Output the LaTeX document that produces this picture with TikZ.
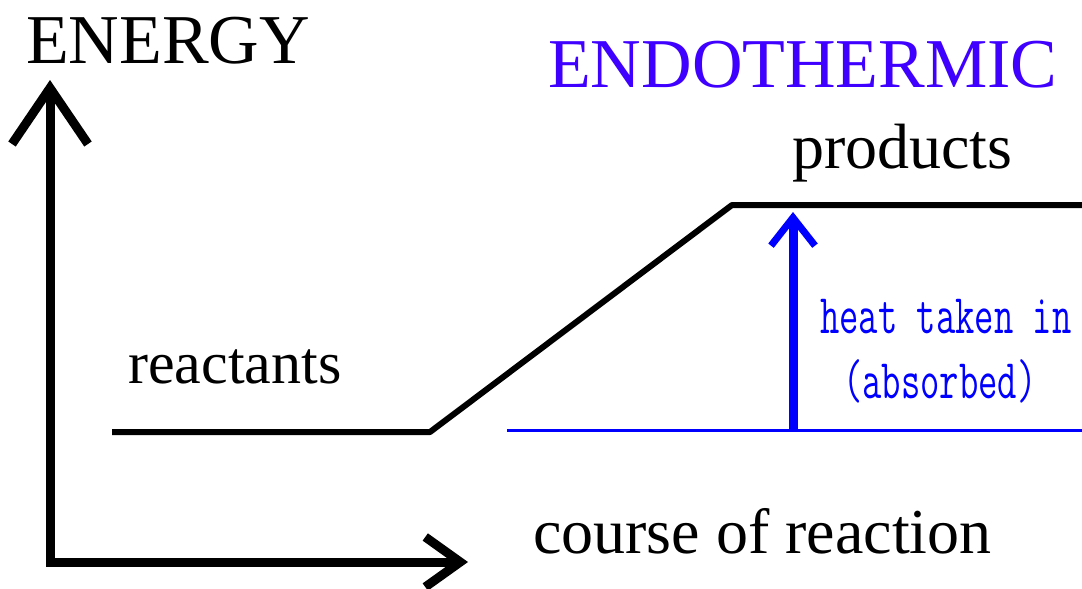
\documentclass[tikz,border=0pt]{standalone}
\usepackage{fontspec}
\setmainfont{Liberation Serif}
\usetikzlibrary{arrows.meta}
\definecolor{endoblue}{RGB}{64,0,255}
\definecolor{pureblue}{RGB}{0,0,255}
\tikzset{
  axisline/.style={line width=9pt, line cap=butt, line join=miter},
  energyline/.style={line width=6pt, line join=round},
  baseline/.style={line width=3pt, pureblue},
  heatarrow/.style={line width=9pt, pureblue, -{Straight Barb[length=28pt,width=44pt,line width=7pt]}},
  lbl/.style={inner sep=0pt, anchor=base west},
  bigtxt/.style={lbl, font=\fontsize{70}{70}\selectfont},
  midtxt/.style={lbl, font=\fontsize{62}{62}\selectfont},
  heattxt/.style={lbl, pureblue, font=\ttfamily\fontsize{56}{56}\selectfont}
}
\begin{document}
\begin{tikzpicture}[x=1pt,y=-1pt]
\useasboundingbox (0,0) rectangle (1082,589);
% axes
\coordinate (ytop) at (50,80);
\coordinate (O) at (50,562);
\coordinate (xend) at (468,562);
\draw[axisline, {Straight Barb[length=56pt,width=76pt,line width=9pt]}-{Straight Barb[length=35pt,width=50pt,line width=9pt]}] (ytop) -- (O.center) -- (xend);
% energy profile
\coordinate (r0) at (112,432);
\coordinate (r1) at (430,432);
\coordinate (p0) at (732,205);
\coordinate (p1) at (1082,205);
\draw[energyline] (r0) -- (r1) -- (p0) -- (p1);
% blue baseline and heat arrow
\coordinate (b0) at (507,430);
\coordinate (b1) at (1082,430);
\draw[baseline] (b0) -- (b1);
\coordinate (ab) at (793,431);
\coordinate (at) at (793,212);
\draw[heatarrow] (ab) -- (at);
% labels
\node[bigtxt] (energy) at (26,63) {ENERGY};
\node[bigtxt, text=endoblue] (endo) at (548,87) {ENDOTHERMIC};
\node[midtxt, font=\fontsize{64}{64}\selectfont] (prod) at (792,168) {products};
\node[midtxt, font=\fontsize{60}{60}\selectfont] (react) at (128,383) {reactants};
\node[midtxt, font=\fontsize{64}{64}\selectfont] (course) at (533,553) {course of reaction};
\node[heattxt] (heat1) at (820,333) {\scalebox{0.67}[1]{heat taken in}};
\node[heattxt] (heat2) at (843,398) {\scalebox{0.67}[1]{(absorbed)}};
\end{tikzpicture}
\end{document}
